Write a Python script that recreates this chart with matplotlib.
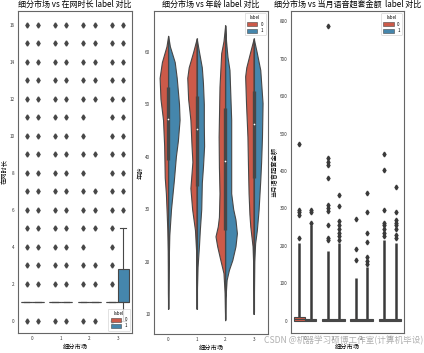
import numpy as np
import matplotlib
matplotlib.use("Agg")
import matplotlib.pyplot as plt
from matplotlib.patches import Patch

plt.rcParams['font.family'] = ['Noto Sans CJK SC', 'DejaVu Sans']
plt.rcParams['axes.unicode_minus'] = False

groups = [0, 1, 2, 3]
hues = ["0", "1"]
red = "#cc5a49"
blue = "#4586ac"
gray = "#474747"

# ---- panel 1: 在网时长 boxplot summary (per group, per label) ----
p1_stats = {
    (0, 0): dict(q1=1, med=1, q3=1, lo=1, hi=1, fl=[0] + list(range(2, 17))),
    (0, 1): dict(q1=1, med=1, q3=1, lo=1, hi=1, fl=[0] + list(range(2, 17))),
    (1, 0): dict(q1=1, med=1, q3=1, lo=1, hi=1, fl=[0] + list(range(2, 17))),
    (1, 1): dict(q1=1, med=1, q3=1, lo=1, hi=1, fl=[0] + list(range(2, 17))),
    (2, 0): dict(q1=1, med=1, q3=1, lo=1, hi=1, fl=[0] + list(range(2, 17))),
    (2, 1): dict(q1=1, med=1, q3=1, lo=1, hi=1, fl=[0, 2, 3, 5, 6, 7, 9, 12, 13, 14, 15, 16]),
    (3, 0): dict(q1=1, med=1, q3=1, lo=1, hi=1, fl=[0] + list(range(2, 17))),
    (3, 1): dict(q1=1, med=1, q3=2.8, lo=0, hi=5, fl=list(range(6, 17))),
}

# ---- panel 2: 年龄 split violin profiles (y value, half width) ----
violin_y = {
    (0, 0): [63, 61, 58, 55, 51, 47, 42, 36, 33, 29, 26, 22, 18, 14, 11],
    (0, 1): [63, 61, 58, 55, 50, 47, 43, 40, 35.5, 30, 25, 20, 15, 11],
    (1, 0): [62.5, 60, 57, 55, 51, 47, 42, 39, 34, 30, 26, 22, 18, 14, 11],
    (1, 1): [62.5, 60, 57, 54, 50, 46, 42, 38, 35, 30, 26, 23, 19, 15, 11],
    (2, 0): [65, 62, 59.7, 53.3, 47, 43.8, 38, 33, 28.5, 26.7, 24.8, 22.9, 20.3, 17.8, 14, 11, 8.8],
    (2, 1): [65, 62, 59, 56.5, 47, 40, 33, 30, 28, 25.4, 22.9, 20.3, 18.4, 16.5, 13, 9],
    (3, 0): [62.5, 60, 57, 55.3, 50.2, 43.8, 38, 33, 29, 26.7, 22.9, 19, 15, 10],
    (3, 1): [62.5, 60, 56.5, 50.2, 43.8, 39, 35.5, 29.8, 26, 23.5, 20, 15, 10],
}
violin_w = {
    (0, 0): [0, 0.06, 0.22, 0.30, 0.27, 0.18, 0.14, 0.12, 0.08, 0.05, 0.03, 0.015, 0.01, 0.008, 0],
    (0, 1): [0, 0.06, 0.23, 0.30, 0.38, 0.40, 0.34, 0.27, 0.20, 0.10, 0.04, 0.02, 0.01, 0],
    (1, 0): [0, 0.12, 0.28, 0.33, 0.30, 0.22, 0.18, 0.15, 0.22, 0.16, 0.06, 0.02, 0.01, 0.005, 0],
    (1, 1): [0, 0.08, 0.18, 0.22, 0.25, 0.25, 0.26, 0.22, 0.18, 0.16, 0.11, 0.08, 0.03, 0.01, 0],
    (2, 0): [0, 0.06, 0.14, 0.20, 0.22, 0.23, 0.22, 0.20, 0.22, 0.26, 0.34, 0.28, 0.17, 0.06, 0.02, 0.01, 0],
    (2, 1): [0, 0.03, 0.08, 0.15, 0.21, 0.21, 0.21, 0.28, 0.36, 0.41, 0.36, 0.25, 0.13, 0.05, 0.01, 0],
    (3, 0): [0, 0.12, 0.26, 0.30, 0.27, 0.22, 0.20, 0.18, 0.15, 0.12, 0.04, 0.015, 0.01, 0],
    (3, 1): [0, 0.10, 0.23, 0.31, 0.29, 0.26, 0.23, 0.17, 0.11, 0.05, 0.02, 0.01, 0],
}
age_q1 = [39.4, 34.3, 26, 36]
age_med = [47.1, 45.2, 39.2, 46.2]
age_q3 = [53.3, 51.5, 49.3, 52.4]
age_lo = [11, 11, 9, 10.4]
age_hi = [63, 62.5, 65, 62.5]

# ---- panel 3: 当月语音超套金额 boxplot summary ----
p3_box = {
    (0, 0): (0, 3, 10), (0, 1): (0, 1, 3),
    (1, 0): (0, 1, 3), (1, 1): (0, 1, 3),
    (2, 0): (0, 1, 3), (2, 1): (0, 1, 3),
    (3, 0): (0, 1, 3), (3, 1): (0, 1, 3),
}
p3_dense_top = {
    (0, 0): 207, (0, 1): 255, (1, 0): 185, (1, 1): 207,
    (2, 0): 113, (2, 1): 144, (3, 0): 216, (3, 1): 207,
}
p3_fliers = {
    (0, 0): [222, 281, 289, 296, 473],
    (0, 1): [262, 290, 295],
    (1, 0): [215, 222, 255, 294, 302, 310, 381, 416, 425, 434, 789],
    (1, 1): [215, 225, 235, 245, 255, 265, 307, 336],
    (2, 0): [162, 191, 271],
    (2, 1): [152, 160, 171, 211, 234, 291, 342],
    (3, 0): [225, 235, 245, 255, 260, 296, 403, 446],
    (3, 1): [220, 230, 245, 255, 262, 269, 291, 358],
}

fig = plt.figure(figsize=(4.24, 3.53), dpi=100)
axes = [fig.add_axes([0.0425, 0.057, 0.2685, 0.912]),
        fig.add_axes([0.363, 0.054, 0.269, 0.915]),
        fig.add_axes([0.686, 0.057, 0.267, 0.912])]

def style(ax):
    for s in ax.spines.values():
        s.set_color("#666666")
        s.set_linewidth(0.8)
    ax.tick_params(length=0, labelsize=3.3, pad=2.5, colors="#333333")

def labels(ax, xl, yl, title):
    ax.set_xlabel(xl, fontsize=4.5, labelpad=1)
    ax.set_ylabel(yl, fontsize=4.5, labelpad=0.5)
    ax.set_title(title, fontsize=5.8, pad=3)

def legend(ax, loc):
    hs = [Patch(facecolor=red, edgecolor=gray, lw=0.4),
          Patch(facecolor=blue, edgecolor=gray, lw=0.4)]
    lg = ax.legend(hs, hues, title="label", loc=loc, fontsize=3.2, title_fontsize=3.2,
                   handlelength=2.4, handleheight=1.0, borderpad=0.5, labelspacing=0.3,
                   frameon=True, fancybox=True)
    lg.get_frame().set_edgecolor("#cccccc")
    lg.get_frame().set_linewidth(0.5)

def boxes(ax, statsmap, colors):
    for (g, h), st in statsmap.items():
        s = dict(med=st["med"], q1=st["q1"], q3=st["q3"], whislo=st["lo"],
                 whishi=st["hi"], fliers=st["fl"])
        ax.bxp([s], positions=[g - 0.2 + 0.4 * h], widths=[0.4], patch_artist=True,
               boxprops=dict(facecolor=colors[h], edgecolor=gray, lw=0.8),
               medianprops=dict(color=gray, lw=0.8),
               whiskerprops=dict(color=gray, lw=0.8),
               capprops=dict(color=gray, lw=0.8),
               flierprops=dict(marker="d", markersize=2.6, markerfacecolor=gray,
                               markeredgecolor=gray, lw=0))

# panel 1
ax = axes[0]
boxes(ax, p1_stats, [red, blue])
ax.set_xlim(-0.5, 3.5)
ax.set_ylim(-0.66, 16.76)
ax.set_xticks(groups)
ax.set_xticklabels([str(g) for g in groups])
ax.set_yticks(range(0, 17, 2))
labels(ax, "细分市场", "在网时长", "细分市场 vs 在网时长 label 对比")
style(ax)
legend(ax, "lower right")

# panel 2
ax = axes[1]
for (g, h), ys in violin_y.items():
    w = np.array(violin_w[(g, h)])
    ys = np.array(ys)
    if h == 0:
        ax.fill_betweenx(ys, g - w, g, facecolor=red, edgecolor=gray, lw=0.8, zorder=2)
    else:
        ax.fill_betweenx(ys, g, g + w, facecolor=blue, edgecolor=gray, lw=0.8, zorder=2)
for g in groups:
    ax.vlines(g, age_lo[g], age_hi[g], color=gray, lw=0.8, zorder=3)
    ax.vlines(g, age_q1[g], age_q3[g], color=gray, lw=2.4, zorder=3)
    ax.scatter([g], [age_med[g]], s=1.5, color="white", zorder=4, lw=0)
ax.set_xlim(-0.5, 3.5)
ax.set_ylim(6.2, 67.75)
ax.set_xticks(groups)
ax.set_xticklabels([str(g) for g in groups])
ax.set_yticks(range(10, 61, 10))
labels(ax, "细分市场", "年龄", "细分市场 vs 年龄 label 对比")
style(ax)
legend(ax, "upper right")

# panel 3
ax = axes[2]
colors3 = [red, blue]
for (g, h), (q1, med, q3) in p3_box.items():
    x = g - 0.2 + 0.4 * h
    ax.vlines(x, 0, p3_dense_top[(g, h)], color="#3a3a3a", lw=1.8, zorder=2)
    ax.plot([x] * len(p3_fliers[(g, h)]), p3_fliers[(g, h)], ls="none", marker="d",
            markersize=2.4, color="#3a3a3a", zorder=2)
    s = dict(med=med, q1=q1, q3=q3, whislo=q1, whishi=q3, fliers=[])
    ax.bxp([s], positions=[x], widths=[0.4], patch_artist=True, showcaps=False,
           boxprops=dict(facecolor=colors3[h], edgecolor=gray, lw=0.8),
           medianprops=dict(color=gray, lw=0.8),
           whiskerprops=dict(color=gray, lw=0.8), zorder=3)
ax.set_xlim(-0.5, 3.5)
ax.set_ylim(-33, 828)
ax.set_xticks(groups)
ax.set_xticklabels([str(g) for g in groups])
ax.set_yticks(range(0, 801, 100))
labels(ax, "细分市场", "当月语音超套金额", "细分市场 vs 当月语音超套金额  label 对比")
style(ax)
legend(ax, "upper right")

fig.text(0.998, 0.022, "CSDN @机器学习硕博工作室(计算机毕设)", ha="right", va="bottom",
         fontsize=6.2, color="#b0b0b0")

fig.savefig("out.png", dpi=100)
